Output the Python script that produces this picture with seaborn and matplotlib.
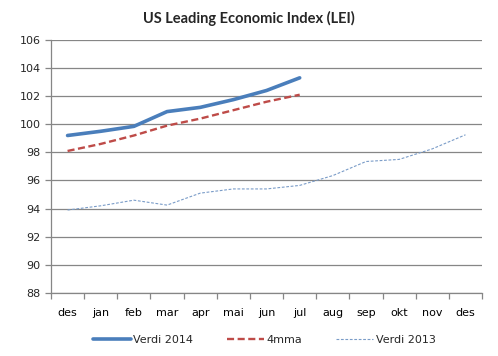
import numpy as np
import pandas as pd
import seaborn as sns
import matplotlib.pyplot as plt
from matplotlib.ticker import FixedLocator

months = ['des', 'jan', 'feb', 'mar', 'apr', 'mai', 'jun', 'jul', 'aug', 'sep', 'okt', 'nov', 'des']
verdi_2014 = [99.2, 99.5, 99.85, 100.9, 101.2, 101.75, 102.4, 103.3]
mma4 = [98.1, 98.6, 99.2, 99.9, 100.4, 101.0, 101.6, 102.1]
verdi_2013 = [93.9, 94.2, 94.6, 94.25, 95.1, 95.4, 95.4, 95.65, 96.35, 97.35, 97.5, 98.25, 99.25]

sns.set_style('white')
plt.rcParams['font.family'] = ['DejaVu Sans']

fig = plt.figure(figsize=(4.98, 3.56), dpi=100)
ax = fig.add_axes([0.1024, 0.177, 0.8656, 0.711])

grey = '#868686'
df13 = pd.DataFrame({'x': range(len(verdi_2013)), 'y': verdi_2013})
df14 = pd.DataFrame({'x': range(len(verdi_2014)), 'y': verdi_2014})
dfm = pd.DataFrame({'x': range(len(mma4)), 'y': mma4})

sns.lineplot(data=df14, x='x', y='y', ax=ax, color='#4A7EBB', linewidth=2.6, label='Verdi 2014')
sns.lineplot(data=dfm, x='x', y='y', ax=ax, color='#BE4B48', linewidth=1.7, linestyle=(0, (3, 1.5)), label='4mma')
sns.lineplot(data=df13, x='x', y='y', ax=ax, color='#7A9CC8', linewidth=0.8, linestyle=(0, (2.5, 1.5)), label='Verdi 2013')

ax.set_xlim(-0.5, len(months) - 0.5)
ax.set_ylim(88, 106)
ax.set_yticks(np.arange(88, 107, 2))
ax.set_xticks(range(len(months)))
ax.set_xticklabels(months)
ax.xaxis.set_minor_locator(FixedLocator(np.arange(-0.5, len(months), 1)))
ax.yaxis.grid(True, color=grey, linewidth=0.9)
ax.set_axisbelow(True)
ax.set_xlabel('')
ax.set_ylabel('')

for s in ['top', 'right']:
    ax.spines[s].set_visible(False)
for s in ['left', 'bottom']:
    ax.spines[s].set_color(grey)
    ax.spines[s].set_linewidth(0.9)

ax.tick_params(axis='x', which='major', length=0, labelsize=8, pad=11, colors='black')
ax.tick_params(axis='x', which='minor', length=4, color=grey, direction='out', width=0.9)
ax.tick_params(axis='y', length=4, color=grey, direction='out', labelsize=8, width=0.9)
ax.tick_params(axis='y', left=True)
ax.tick_params(axis='x', which='minor', bottom=True)

fig.text(0.5, 0.948, 'US Leading Economic Index (LEI)', fontsize=10.5, fontweight='bold',
         family='Lato', ha='center', va='center')

ax.legend(loc='center', bbox_to_anchor=(0.495, -0.185), ncol=3, frameon=False,
          fontsize=8, handlelength=3.4, handletextpad=0.2, columnspacing=3.0)

fig.savefig('out.png', dpi=100)
